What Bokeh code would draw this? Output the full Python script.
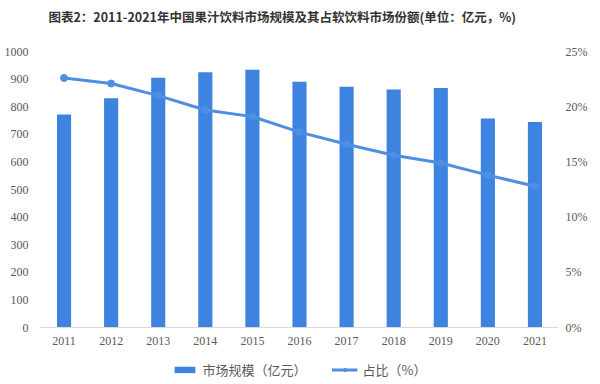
from bokeh.plotting import figure
from bokeh.layouts import column
from bokeh.models import (ColumnDataSource, LinearAxis, Range1d, Legend, LegendItem,
                          FactorRange, NumeralTickFormatter, Label)
from bokeh.embed import file_html
from bokeh.resources import INLINE

years = ["2011", "2012", "2013", "2014", "2015", "2016", "2017", "2018", "2019", "2020", "2021"]
market_size = [772, 831, 905, 925, 934, 890, 872, 862, 868, 757, 745]
share_pct = [22.6, 22.1, 21.0, 19.7, 19.1, 17.7, 16.6, 15.6, 14.9, 13.8, 12.8]

left_ticks = [0, 100, 200, 300, 400, 500, 600, 700, 800, 900, 1000]
right_ticks = [0, 0.05, 0.10, 0.15, 0.20, 0.25]

title_text = "图表2：2011-2021年中国果汁饮料市场规模及其占软饮料市场份额(单位：亿元，%)"
bar_label = "市场规模（亿元）"
line_label = "占比（%）"

share_frac = [v / 100 for v in share_pct]
src = ColumnDataSource(dict(year=years, size=market_size, share=share_frac))

BAR = "#3D83DF"
LINE = "#4F8FE2"
TXT = "#595959"
TICK_FONT = "Liberation Serif"
CJK = "Noto Sans CJK SC"
W = 590

# ---- title strip ----
tf = figure(width=W, height=36, output_backend="svg", toolbar_location=None,
            x_range=Range1d(0, W), y_range=Range1d(0, 36),
            min_border_left=0, min_border_right=0, min_border_top=0, min_border_bottom=0)
tf.axis.visible = False
tf.grid.grid_line_color = None
tf.outline_line_color = None
tf.add_layout(Label(x=9, y=20, text=title_text, text_font=CJK, text_font_size="12.5px",
                    text_font_style="bold", text_color="#333333",
                    text_align="left", text_baseline="middle"))

# ---- main chart ----
p = figure(x_range=FactorRange(*years), y_range=Range1d(0, 1000),
           width=W, height=323, output_backend="svg", toolbar_location=None,
           min_border_left=40, min_border_right=31, min_border_top=15, min_border_bottom=32)
p.outline_line_color = None
p.xgrid.grid_line_color = None
p.ygrid.grid_line_color = None

p.extra_y_ranges = {"pct": Range1d(0, 0.25)}

bars = p.vbar(x="year", top="size", width=0.3, source=src, fill_color=BAR, line_color=None)
ln = p.line(x="year", y="share", source=src, y_range_name="pct", line_color=LINE, line_width=3)
pts = p.scatter(x="year", y="share", source=src, y_range_name="pct", size=7,
                fill_color=LINE, line_color=LINE)

def style_axis(ax, standoff):
    ax.axis_line_color = None
    ax.major_tick_line_color = None
    ax.minor_tick_line_color = None
    ax.major_tick_out = 0
    ax.major_tick_in = 0
    ax.minor_tick_out = 0
    ax.minor_tick_in = 0
    ax.axis_label_standoff = 0
    ax.major_label_text_font = TICK_FONT
    ax.major_label_text_font_size = "12px"
    ax.major_label_text_color = TXT
    ax.major_label_standoff = standoff

ya = p.yaxis[0]
ya.ticker = left_ticks
style_axis(ya, 12)

ra = LinearAxis(y_range_name="pct", ticker=right_ticks,
                formatter=NumeralTickFormatter(format="0%"))
style_axis(ra, 7)
p.add_layout(ra, "right")

xa = p.xaxis[0]
style_axis(xa, 9)
xa.axis_line_color = "#D9D9D9"
xa.axis_line_width = 1

# ---- legend strip (same series, drawn outside its visible range) ----
lg = figure(width=W, height=20, output_backend="svg", toolbar_location=None,
            x_range=FactorRange(*years), y_range=Range1d(5000, 5001),
            min_border_left=14, min_border_right=0, min_border_top=0, min_border_bottom=0)
lg.axis.visible = False
lg.grid.grid_line_color = None
lg.outline_line_color = None
lb = lg.vbar(x="year", top="size", width=0.3, source=src, fill_color=BAR, line_color=None)
ll = lg.line(x="year", y="share", source=src, line_color=LINE, line_width=3)
lp = lg.scatter(x="year", y="share", source=src, size=7, fill_color=LINE, line_color=LINE)

legend = Legend(items=[LegendItem(label=bar_label, renderers=[lb]),
                       LegendItem(label=line_label, renderers=[ll, lp])],
                orientation="horizontal", location="center",
                label_text_font=CJK, label_text_font_size="13px", label_text_color=TXT,
                glyph_width=26, glyph_height=8, spacing=25, padding=0, margin=0,
                border_line_color=None, background_fill_alpha=0, label_standoff=5)
lg.add_layout(legend, "center")

layout = column(tf, p, lg, spacing=0)
open("out.html", "w").write(file_html(layout, INLINE))
